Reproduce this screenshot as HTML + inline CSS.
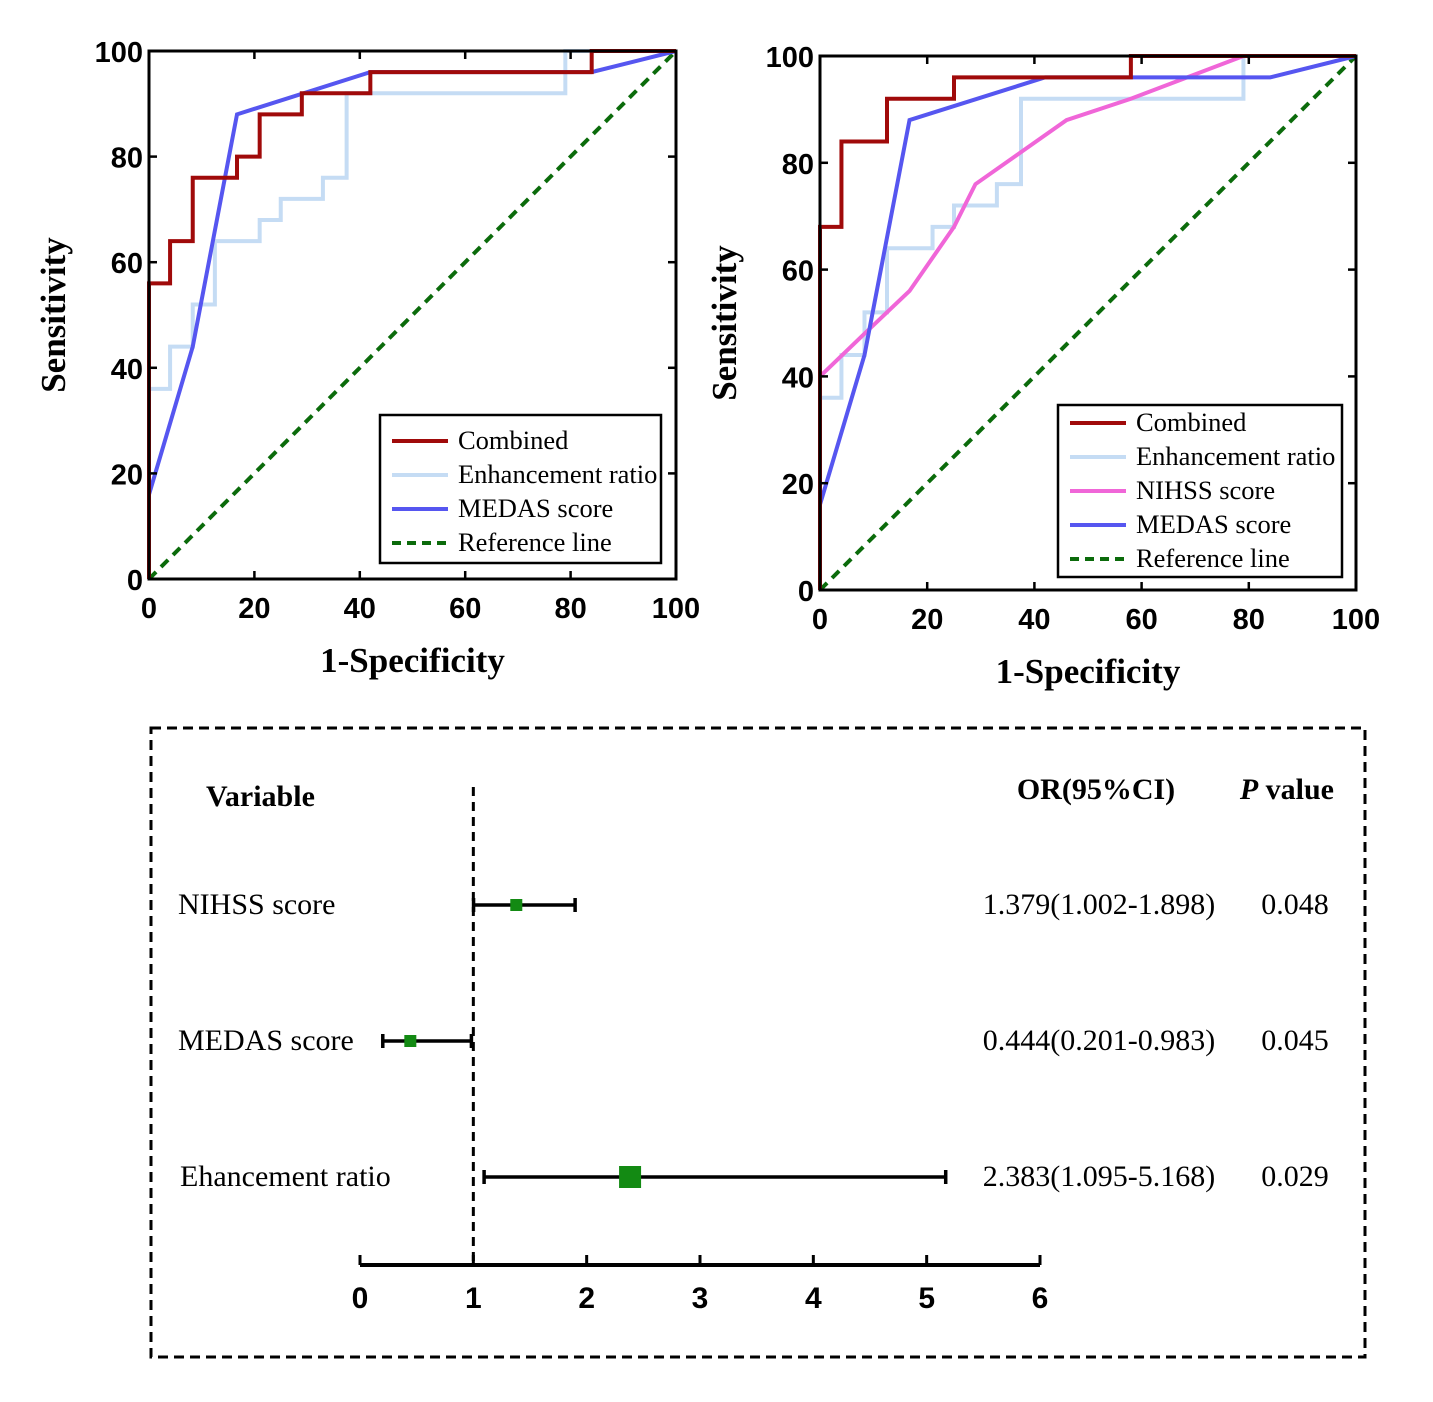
<!DOCTYPE html>
<html><head><meta charset="utf-8"><style>
body{margin:0;background:#fff;}
svg{display:block;}
.tick{font-family:"Liberation Sans",sans-serif;font-weight:bold;font-size:29px;fill:#000;}
.ftick{font-family:"Liberation Sans",sans-serif;font-weight:bold;font-size:30px;fill:#000;}
.ttl{font-family:"Liberation Serif",serif;font-weight:bold;font-size:35px;fill:#000;}
.leg{font-family:"Liberation Serif",serif;font-size:26.5px;fill:#000;}
.ft{font-family:"Liberation Serif",serif;font-size:30px;fill:#000;}
.fb{font-family:"Liberation Serif",serif;font-size:30px;font-weight:bold;fill:#000;}
</style></head><body>
<svg id="s" width="1433" height="1402" xmlns="http://www.w3.org/2000/svg"></svg>
<script>
const leftCombinedX=[0,0,4,4,8.3,8.3,16.7,16.7,21,21,29,29,42,42,84,84,100];
const leftCombinedY=[0,56,56,64,64,76,76,80,80,88,88,92,92,96,96,100,100];
const erX=[0,0,4,4,8.3,8.3,12.5,12.5,21,21,25,25,33,33,37.5,37.5,79,79,100];
const erY=[0,36,36,44,44,52,52,64,64,68,68,72,72,76,76,92,92,100,100];
const medasX=[0,8.3,16.7,42,84,100];
const medasY=[16,44,88,96,96,100];
const rightCombinedX=[0,0,4,4,12.5,12.5,25,25,58,58,100];
const rightCombinedY=[0,68,68,84,84,92,92,96,96,100,100];
const nihssX=[0,8.3,12.5,16.7,25,29,37.5,46,58,79,100];
const nihssY=[40,48,52,56,68,76,82,88,92,100,100];
const ticks=[0,20,40,60,80,100];
const forestVars=["NIHSS score","MEDAS score","Ehancement ratio"];
const forestOR=[1.379,0.444,2.383];
const forestLo=[1.002,0.201,1.095];
const forestHi=[1.898,0.983,5.168];
const forestCI=["1.379(1.002-1.898)","0.444(0.201-0.983)","2.383(1.095-5.168)"];
const forestP=["0.048","0.045","0.029"];
const forestTicks=[0,1,2,3,4,5,6];

const S=document.getElementById('s');const NS="http://www.w3.org/2000/svg";
function el(t,a,parent){const e=document.createElementNS(NS,t);for(const k in a)e.setAttribute(k,a[k]);(parent||S).appendChild(e);return e;}
function txt(x,y,s,cls,anchor,name){const e=el('text',{x:x,y:y,class:cls,'text-anchor':anchor||'start'});e.textContent=s;

return e;}

function roc(P,series,legend,name){
 const g=el('g',{});
 
 
 const sx=v=>P.x0+(P.x1-P.x0)*v/100, sy=v=>P.y0-(P.y0-P.y1)*v/100;
 const ref=el('line',{x1:sx(0),y1:sy(0),x2:sx(100),y2:sy(100),stroke:'#0b6b0b','stroke-width':4,'stroke-dasharray':'10,7'},g);
 
 
 series.forEach(s=>{const d=s.x.map((v,i)=>(i?'L':'M')+sx(v)+','+sy(s.y[i])).join('');
  const p=el('path',{d:d,fill:'none',stroke:s.c,'stroke-width':4,'stroke-linejoin':'miter'},g);
  
  });
 el('rect',{x:P.x0,y:P.y1,width:P.x1-P.x0,height:P.y0-P.y1,fill:'none',stroke:'#000','stroke-width':3},g);
 ticks.forEach(t=>{el('line',{x1:sx(t),y1:P.y0,x2:sx(t),y2:P.y0-8,stroke:'#000','stroke-width':2.5},g);
  el('line',{x1:sx(t),y1:P.y1,x2:sx(t),y2:P.y1+8,stroke:'#000','stroke-width':2.5},g);
  el('line',{x1:P.x0,y1:sy(t),x2:P.x0+8,y2:sy(t),stroke:'#000','stroke-width':2.5},g);
  el('line',{x1:P.x1,y1:sy(t),x2:P.x1-8,y2:sy(t),stroke:'#000','stroke-width':2.5},g);
  txt(sx(t),P.y0+39,String(t),'tick','middle','x-tick-'+t);
  txt(P.x0-6,sy(t)+11,String(t),'tick','end','y-tick-'+t);});
 txt((P.x0+P.x1)/2,P.y0+93,'1-Specificity','ttl','middle','x-axis-title');
 const yt=txt(0,0,'Sensitivity','ttl','middle','y-axis-title');
 yt.setAttribute('transform','translate('+(P.x0-84)+','+((P.y0+P.y1)/2)+') rotate(-90)');
 const L=legend;
 const lb=el('rect',{x:L.x,y:L.y,width:L.w,height:L.h,fill:'#fff',stroke:'#000','stroke-width':2.5},g);
 
 
 L.items.forEach((it,i)=>{const yy=L.y+L.first+i*L.step;
  el('line',{x1:L.x+12,y1:yy,x2:L.x+68,y2:yy,stroke:it[1],'stroke-width':4,'stroke-dasharray':it[2]?'9,6':''},g);
  txt(L.x+78,yy+8,it[0],'leg','start','legend-entry');});
}
roc({x0:149,x1:676,y0:579,y1:51},[
 {x:erX,y:erY,c:'#c5dcf4',n:'enhancement-ratio-curve'},
 {x:medasX,y:medasY,c:'#5656f0',n:'medas-curve'},
 {x:leftCombinedX,y:leftCombinedY,c:'#a00a0a',n:'combined-curve'}],
 {x:380,y:415,w:281,h:148,first:26,step:34,items:[['Combined','#a00a0a'],['Enhancement ratio','#c5dcf4'],['MEDAS score','#5656f0'],['Reference line','#0b6b0b',1]]},'left-roc-chart');
roc({x0:820,x1:1356,y0:590,y1:56},[
 {x:erX,y:erY,c:'#c5dcf4',n:'enhancement-ratio-curve'},
 {x:nihssX,y:nihssY,c:'#f066d8',n:'nihss-curve'},
 {x:medasX,y:medasY,c:'#5656f0',n:'medas-curve'},
 {x:rightCombinedX,y:rightCombinedY,c:'#a00a0a',n:'combined-curve'}],
 {x:1058,y:405,w:284,h:172,first:18,step:34,items:[['Combined','#a00a0a'],['Enhancement ratio','#c5dcf4'],['NIHSS score','#f066d8'],['MEDAS score','#5656f0'],['Reference line','#0b6b0b',1]]},'right-roc-chart');

const fg=el('g',{});


el('rect',{x:151,y:728,width:1214,height:629,fill:'none',stroke:'#000','stroke-width':3,'stroke-dasharray':'10,6'},fg);
const fx=v=>360+v*(1040-360)/6;
const rowY=[905,1041,1177];
el('line',{x1:fx(1),y1:787,x2:fx(1),y2:1265,stroke:'#000','stroke-width':3,'stroke-dasharray':'9,6'},fg);
el('line',{x1:fx(0),y1:1265,x2:fx(6),y2:1265,stroke:'#000','stroke-width':4},fg);
forestTicks.forEach(t=>{el('line',{x1:fx(t),y1:1265,x2:fx(t),y2:1255,stroke:'#000','stroke-width':3},fg);
 txt(fx(t),1308,String(t),'ftick','middle','forest-x-tick-'+t);});
txt(206,806,'Variable','fb','start','variable-header');
txt(1096,799,'OR(95%CI)','fb','middle','or-header');
const ph=txt(1334,799,'','fb','end','p-value-header');
ph.innerHTML='<tspan font-style="italic">P</tspan> value';
forestVars.forEach((v,i)=>{const y=rowY[i];
 txt(i==2?180:178,y+9,v,'ft','start','variable-label');
 const ci=el('path',{d:`M${fx(forestLo[i])},${y}H${fx(forestHi[i])}M${fx(forestLo[i])},${y-7}V${y+7}M${fx(forestHi[i])},${y-7}V${y+7}`,stroke:'#000','stroke-width':3.5,fill:'none'},fg);
 
 
 const sz=i==2?22:12;
 const sq=el('rect',{x:fx(forestOR[i])-sz/2,y:y-sz/2,width:sz,height:sz,fill:'#138a13'},fg);
 
 
 txt(1099,y+9,forestCI[i],'ft','middle','or-ci-value');
 txt(1295,y+9,forestP[i],'ft','middle','p-value');});
</script></body></html>
